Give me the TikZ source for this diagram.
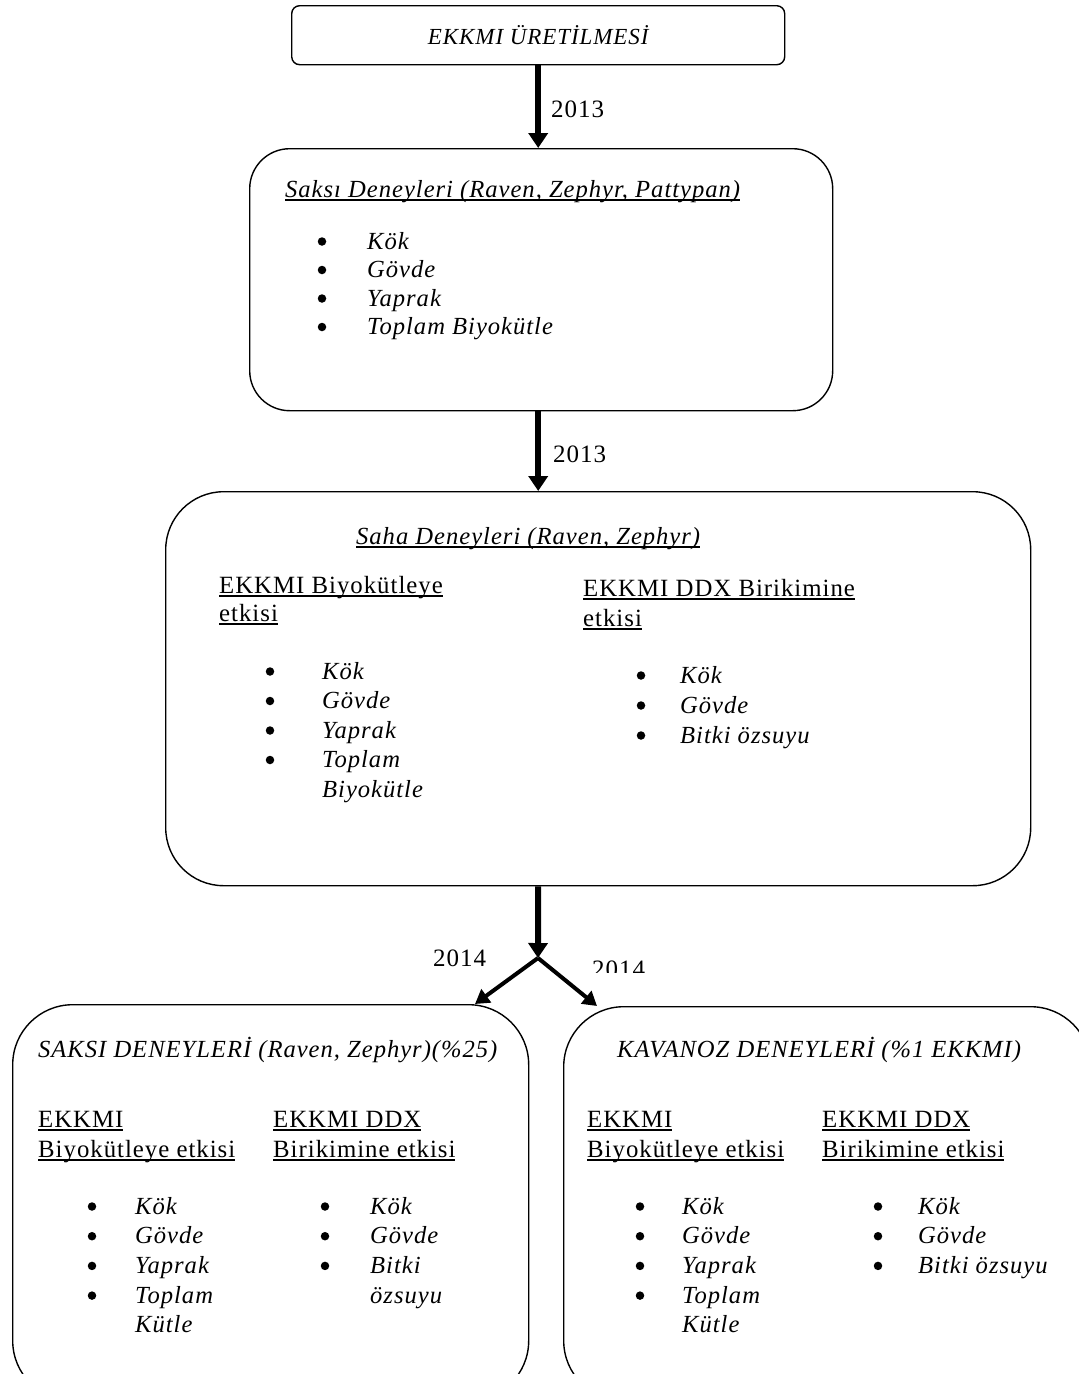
\documentclass[tikz,border=0pt]{standalone}
\usepackage{fontspec}
\setmainfont{Liberation Serif}[LetterSpace=4]
\usetikzlibrary{arrows.meta}
\newcommand\myul[1]{\setbox0=\hbox{#1}\rlap{\rule[-3.5pt]{\wd0}{1.3pt}}\box0}
\newcommand\blist[7]{%
  \foreach \k in {1,...,#6} \node[dot] (#1d\k) at (#2, {#4-7.5+#5*(\k-1)}) {};
  \foreach \t [count=\k] in {#7} \node[it] (#1t\k) at (#3, {#4+#5*(\k-1)}) {\t};
}
\begin{document}
\begin{tikzpicture}[x=1pt,y=-1pt,
  box/.style={draw, line width=1.4pt, anchor=north west, inner sep=0pt},
  it/.style={inner sep=0pt, anchor=base west, font=\fontsize{24.6}{28}\selectfont\itshape},
  up/.style={inner sep=0pt, anchor=base west, font=\fontsize{24.8}{28}\selectfont},
  dot/.style={circle, fill, inner sep=0pt, minimum size=8.5pt},
  num/.style={inner sep=0pt, anchor=base west, font=\fontsize{25}{28}\selectfont},
  bigarr/.style={line width=6pt, -{Triangle[width=19pt,length=15pt]}},
  smallarr/.style={line width=4pt, -{Triangle[width=16pt,length=14pt]}}]
\useasboundingbox (0,0) rectangle (1079,1374);
\clip (0,0) rectangle (1079,1374);
% boxes
\node[box, rounded corners=8pt, minimum width=493pt, minimum height=59pt] (b1) at (291,5) {};
\node[box, rounded corners=40pt, minimum width=583pt, minimum height=262pt] (b2) at (249,148) {};
\node[box, rounded corners=58pt, minimum width=865pt, minimum height=394pt] (b3) at (165,491) {};
\node[box, rounded corners=60pt, minimum width=516pt, minimum height=396pt] (b4) at (12,1004) {};
\node[box, rounded corners=60pt, minimum width=527pt, minimum height=394pt] (b5) at (563,1006) {};
% connectors
\coordinate (split) at (538,958);
\coordinate (b4t) at (475,1004);
\coordinate (b5t) at (597,1006);
\draw[bigarr] (b1.south) -- (b1.south |- b2.north);
\draw[bigarr] (b2.south -| b1.south) -- (b1.south |- b3.north);
\draw[bigarr] (b1.south |- b3.south) -- (split);
\draw[smallarr] (split) -- (b4t);
\draw[smallarr] (split) -- (b5t);
\node[num] (l1) at (551,117) {2013};
\node[num] (l2) at (553,462) {2013};
\node[num] (l3) at (433,966) {2014};
\begin{scope}
\clip (580,940) rectangle (660,972);
\node[num] (l4) at (592,977) {2014};
\end{scope}
% box 1
\node[inner sep=0pt, font=\fontsize{23}{28}\selectfont\itshape] (t1) at (b1.center) {EKKMI ÜRETİLMESİ};
% box 2
\node[it] (s2) at (285,197) {\myul{Saksı Deneyleri (Raven, Zephyr, Pattypan)}};
\blist{p}{322}{367}{249}{28.5}{4}{Kök,Gövde,Yaprak,Toplam Biyokütle}
% box 3
\node[it] (s3) at (356,544) {\myul{Saha Deneyleri (Raven, Zephyr)}};
\node[up] (h3a) at (219,593) {\myul{EKKMI Biyokütleye}};
\node[up] (h3b) at (219,621) {\myul{etkisi}};
\node[up] (h3c) at (583,596) {\myul{EKKMI DDX Birikimine}};
\node[up] (h3d) at (583,626) {\myul{etkisi}};
\blist{q}{270}{322}{679}{29.5}{4}{Kök,Gövde,Yaprak,Toplam,Biyokütle}
\blist{r}{641}{680}{683}{30}{3}{Kök,Gövde,Bitki özsuyu}
% box 4
\node[it] (s4) at (38,1057) {SAKSI DENEYLERİ (Raven, Zephyr)(\%25)};
\node[up] (h4a) at (38,1127) {\myul{EKKMI}};
\node[up] (h4b) at (38,1157) {\myul{Biyokütleye etkisi}};
\node[up] (h4c) at (273,1127) {\myul{EKKMI DDX}};
\node[up] (h4d) at (273,1157) {\myul{Birikimine etkisi}};
\blist{u}{92}{135}{1214}{29.7}{4}{Kök,Gövde,Yaprak,Toplam,Kütle}
\blist{v}{325}{370}{1214}{29.7}{3}{Kök,Gövde,Bitki,özsuyu}
% box 5
\node[it] (s5) at (617,1057) {KAVANOZ DENEYLERİ (\%1 EKKMI)};
\node[up] (h5a) at (587,1127) {\myul{EKKMI}};
\node[up] (h5b) at (587,1157) {\myul{Biyokütleye etkisi}};
\node[up] (h5c) at (822,1127) {\myul{EKKMI DDX}};
\node[up] (h5d) at (822,1157) {\myul{Birikimine etkisi}};
\blist{w}{640}{682}{1214}{29.7}{4}{Kök,Gövde,Yaprak,Toplam,Kütle}
\blist{z}{878}{918}{1214}{29.7}{3}{Kök,Gövde,Bitki özsuyu}
\end{tikzpicture}
\end{document}
